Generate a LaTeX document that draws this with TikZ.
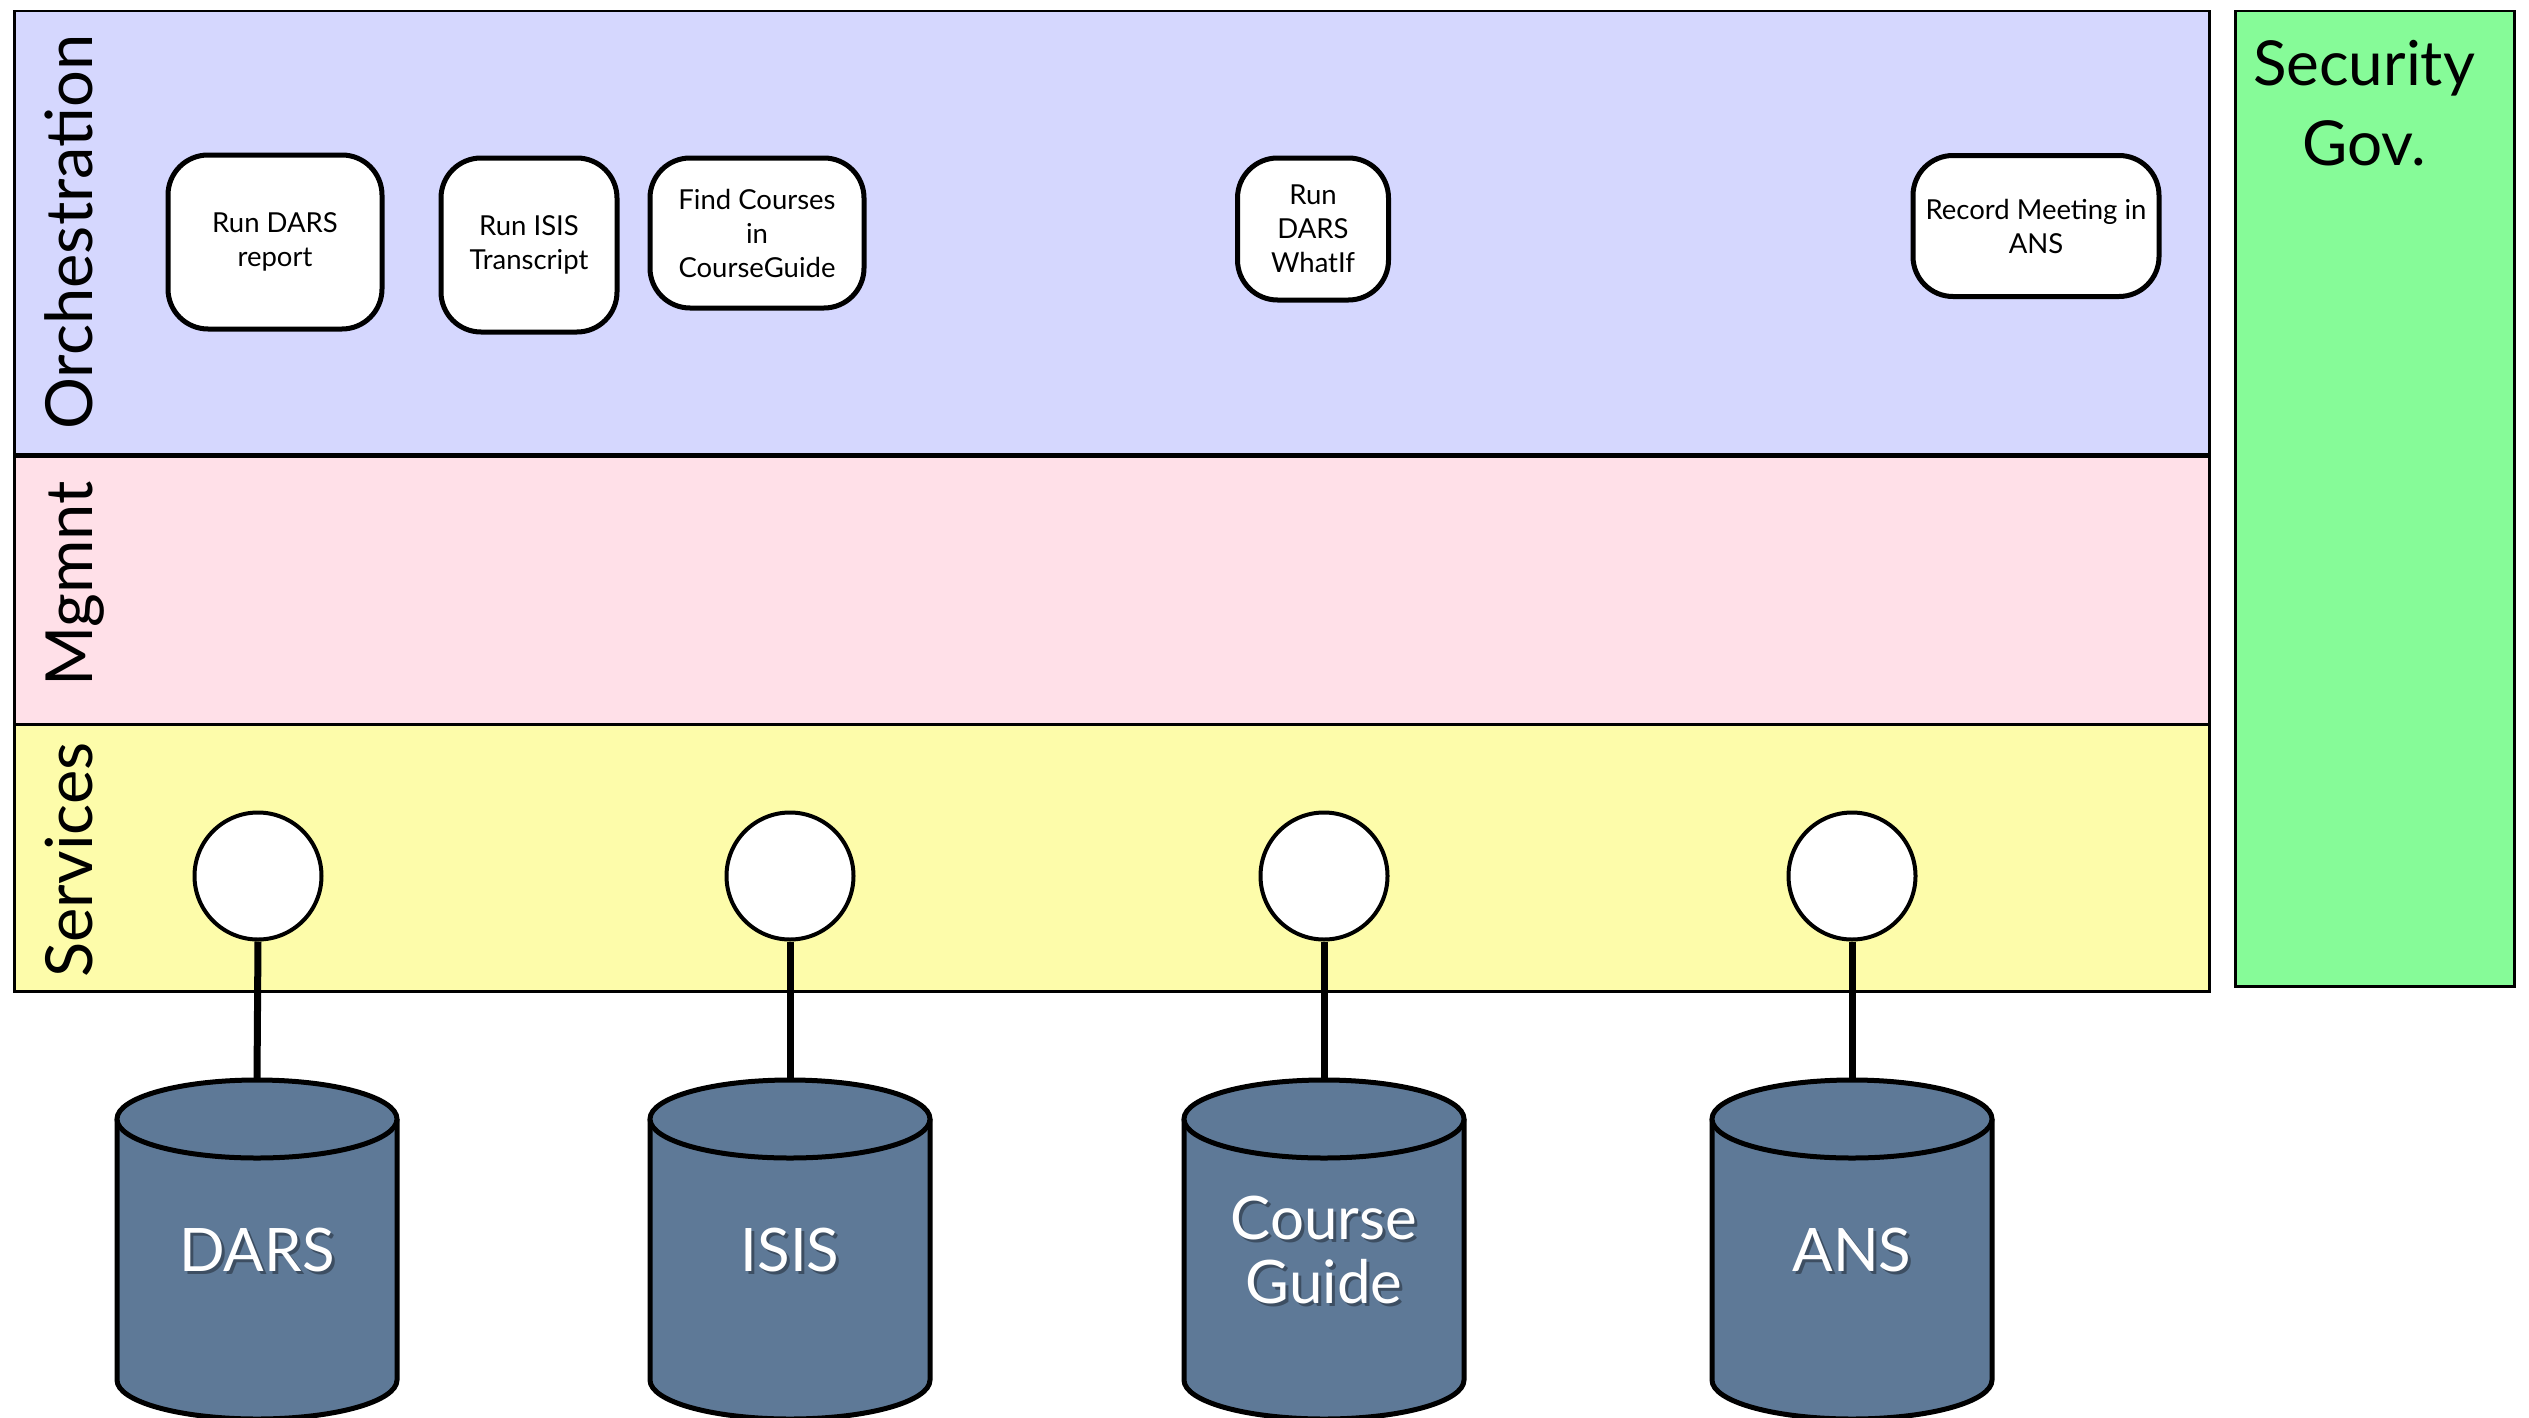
\documentclass[tikz,border=0pt]{standalone}
\usepackage{fontspec}
\setmainfont{Lato}
\definecolor{orchc}{RGB}{213,215,254}
\definecolor{mgmtc}{RGB}{255,224,232}
\definecolor{servc}{RGB}{253,252,170}
\definecolor{secc}{RGB}{134,251,152}
\definecolor{dbc}{RGB}{94,121,151}
\tikzset{
  band/.style={draw=black, line width=2.5pt, inner sep=0pt, anchor=north west},
  bandlabel/.style={rotate=90, anchor=base, inner sep=0pt, font=\fontsize{65}{70}\selectfont},
  task/.style={draw=black, line width=5pt, fill=white, rounded corners=40pt, align=center,
    inner sep=0pt, font=\fontsize{27.5}{34}\selectfont},
  svc/.style={circle, draw=black, line width=4pt, fill=white, minimum size=127pt, inner sep=0pt},
  link/.style={line width=7pt},
  dblabel/.style={text=white, align=center, inner sep=0pt, font=\fontsize{60}{64}\selectfont},
  dbshadow/.style={text=black, opacity=0.35, align=center, inner sep=0pt, font=\fontsize{60}{64}\selectfont},
  dbline/.style={draw=black, line width=5pt},
}
\newcommand\dbcylinder[3]{%
  \begin{scope}[shift={(#1,0)}]
    \fill[dbc] (-140,1119) rectangle (140,1380);
    \fill[dbc] (0,1380) ellipse[x radius=140, y radius=39];
    \draw[dbline] (-140,1119) -- (-140,1380) arc[start angle=180, end angle=0, x radius=140, y radius=39] -- (140,1119);
    \filldraw[dbline, fill=dbc] (0,1119) ellipse[x radius=140, y radius=39];
    \coordinate (#2top) at (0,1080);
    \node[dbshadow] at (3,1253) {#3};
    \node[dblabel] (#2) at (0,1250) {#3};
  \end{scope}}
\begin{document}
\begin{tikzpicture}[x=1pt,y=-1pt]
\useasboundingbox[fill=white] (0,0) rectangle (2529,1418);
% bands
\node[band, fill=orchc, minimum width=2195pt, minimum height=443pt] (orch) at (13,10) {};
\node[band, fill=mgmtc, minimum width=2195pt, minimum height=270pt] (mgmt) at (13,453) {};
\node[band, fill=servc, minimum width=2195pt, minimum height=267pt] (serv) at (13,723) {};
\draw[line width=4pt] (orch.south west) -- (orch.south east);
\node[band, fill=secc, minimum width=279pt, minimum height=975pt] (sec) at (2234,10) {};
% band labels
\node[bandlabel] (lorch) at (92,232) {Orchestration};
\node[bandlabel] (lmgmt) at (92,584) {Mgmnt};
\node[bandlabel] (lserv) at (92,860) {Services};
\node[anchor=north, align=center, inner sep=0pt, font=\fontsize{62}{80}\selectfont] (lsec) at (2364,40) {Security\\Gov.};
% tasks
\node[task, minimum width=214pt, minimum height=174pt] (t1) at (275,242) {Run DARS\\report};
\node[task, minimum width=176pt, minimum height=174pt] (t2) at (529,245) {Run ISIS\\Transcript};
\node[task, minimum width=214pt, minimum height=150pt] (t3) at (757,233) {Find Courses\\in\\CourseGuide};
\node[task, minimum width=151pt, minimum height=142pt] (t4) at (1313,229) {Run\\DARS\\WhatIf};
\node[task, minimum width=246pt, minimum height=141pt] (t5) at (2036,226) {Record Meeting in\\ANS};
% services
\node[svc] (s1) at (258,876) {};
\node[svc] (s2) at (790,876) {};
\node[svc] (s3) at (1324,876) {};
\node[svc] (s4) at (1852,876) {};
% databases
\dbcylinder{257}{d1}{DARS}
\dbcylinder{790}{d2}{ISIS}
\dbcylinder{1324}{d3}{Course\\Guide}
\dbcylinder{1852}{d4}{ANS}
% links
\draw[link] (s1.south) -- (d1top);
\draw[link] (s2.south) -- (d2top);
\draw[link] (s3.south) -- (d3top);
\draw[link] (s4.south) -- (d4top);
\end{tikzpicture}
\end{document}
